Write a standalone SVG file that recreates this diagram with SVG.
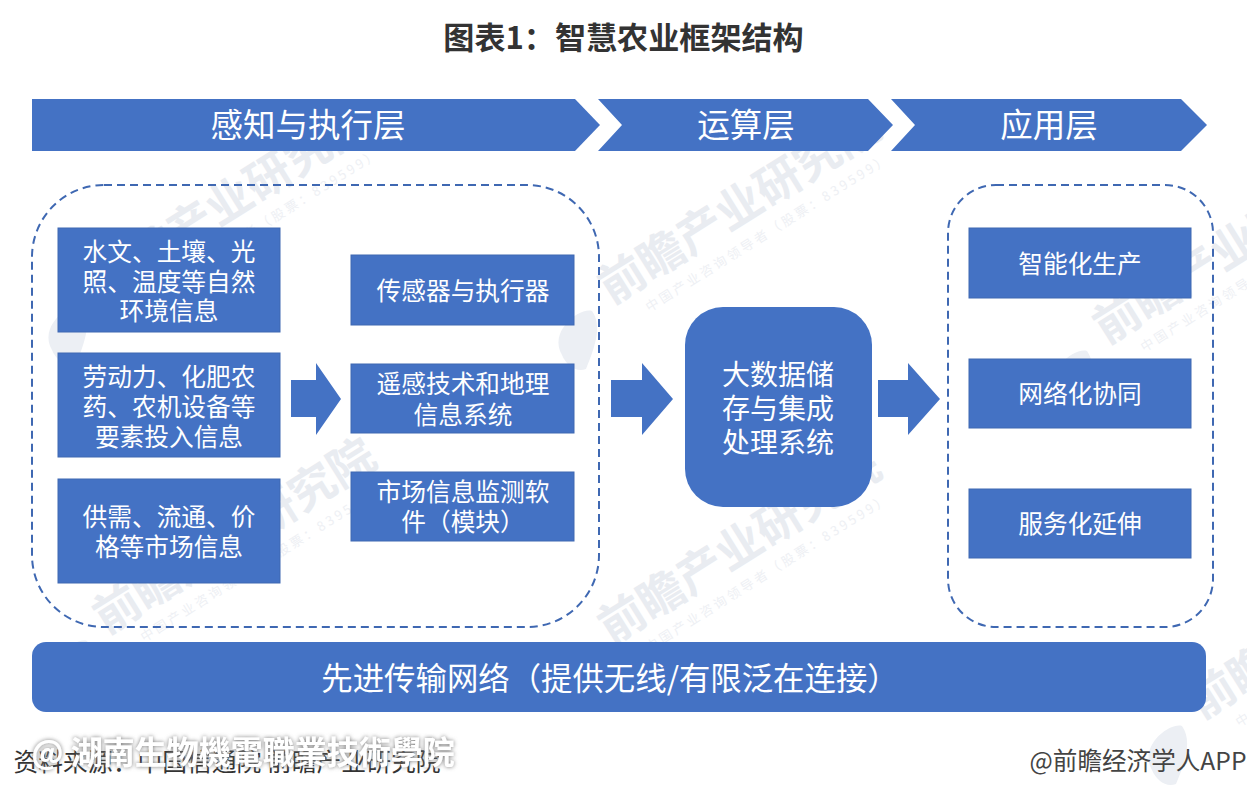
<svg xmlns="http://www.w3.org/2000/svg" width="1247" height="800" viewBox="0 0 1247 800">
<style>
text{font-family:"Noto Sans CJK SC","Liberation Sans",sans-serif;text-anchor:middle}
.b{fill:#4472c4}
.box{fill:#4472c4;stroke:#3f68b2;stroke-width:1}
.t{fill:#fff;font-size:24.7px}
.h{fill:#fff;font-size:32.5px}
.net{fill:#fff;font-size:31.4px}
.big{fill:#fff;font-size:28px}
.d{fill:none;stroke:#3f68b2;stroke-width:2;stroke-dasharray:8 5}
.wm{fill:#e9ecf1;font-size:46px;font-weight:700}
.ws{fill:#eef0f4;font-size:13px;letter-spacing:3px}
</style>
<defs>
<filter id="glow" x="-5%" y="-40%" width="110%" height="180%">
<feGaussianBlur in="SourceAlpha" stdDeviation="2.2" result="s"/>
<feFlood flood-color="#777" result="c"/>
<feComposite in="c" in2="s" operator="in" result="sh"/>
<feMerge><feMergeNode in="sh"/><feMergeNode in="SourceGraphic"/></feMerge>
</filter>
<g id="mark">
<path d="M-28 20C-42 -4 -10 -28 2 -24C12 -10 6 10 -4 34C-14 38 -24 30 -28 20Z" fill="#eceff4"/>
<text class="wm" transform="rotate(-32)" x="195" y="-14">前瞻产业研究院</text>
<text class="ws" transform="rotate(-32)" x="205" y="12">中国产业咨询领导者（股票：839599）</text>
</g>
</defs>
<rect width="1247" height="800" fill="#fff"/>
<g id="watermarks">
<use href="#mark" x="80" y="330"/>
<use href="#mark" x="590" y="335"/>
<use href="#mark" x="1085" y="375"/>
<use href="#mark" x="85" y="665"/>
<use href="#mark" x="590" y="675"/>
<use href="#mark" x="1180" y="750"/>
</g>
<text x="623.500" y="49" style="font-size:31.1px;font-weight:700;fill:#333">图表1：智慧农业框架结构</text>
<g id="band-sense"><path class="b" d="M32 99H575L600 125L575 151H32Z"/><text class="h" x="308" y="137">感知与执行层</text></g>
<g id="band-compute"><path class="b" d="M598 99H868L893 125L868 151H598L622 125Z"/><text class="h" x="746" y="137">运算层</text></g>
<g id="band-app"><path class="b" d="M891 99H1181L1207 125L1181 151H891L915 125Z"/><text class="h" x="1049" y="137">应用层</text></g>
<g id="group-left"><rect class="d" x="32" y="185" width="567" height="442" rx="72"/></g>
<g id="group-right"><rect class="d" x="948" y="185" width="265" height="442" rx="48"/></g>
<g id="n1"><rect class="box" x="58" y="228" width="222" height="104"/><text class="t" x="169" y="261">水文、土壤、光</text><text class="t" x="169" y="291">照、温度等自然</text><text class="t" x="169" y="320">环境信息</text></g>
<g id="n2"><rect class="box" x="58" y="353" width="222" height="104"/><text class="t" x="169" y="386">劳动力、化肥农</text><text class="t" x="169" y="416">药、农机设备等</text><text class="t" x="169" y="446">要素投入信息</text></g>
<g id="n3"><rect class="box" x="58" y="479" width="222" height="104"/><text class="t" x="169" y="526">供需、流通、价</text><text class="t" x="169" y="556">格等市场信息</text></g>
<g id="n4"><rect class="box" x="351" y="255" width="223" height="70"/><text class="t" x="463" y="300">传感器与执行器</text></g>
<g id="n5"><rect class="box" x="351" y="364" width="223" height="69"/><text class="t" x="463" y="393">遥感技术和地理</text><text class="t" x="463" y="424">信息系统</text></g>
<g id="n6"><rect class="box" x="351" y="472" width="223" height="69"/><text class="t" x="463" y="501">市场信息监测软</text><text class="t" x="463" y="531">件（模块）</text></g>
<g id="n7"><rect class="b" x="685" y="307" width="187" height="200" rx="38"/><text class="big" x="778" y="385">大数据储</text><text class="big" x="778" y="419">存与集成</text><text class="big" x="778" y="453">处理系统</text></g>
<g id="n8"><rect class="box" x="969" y="228" width="222" height="70"/><text class="t" x="1080" y="273">智能化生产</text></g>
<g id="n9"><rect class="box" x="969" y="359" width="222" height="69"/><text class="t" x="1080" y="403">网络化协同</text></g>
<g id="n10"><rect class="box" x="969" y="489" width="222" height="69"/><text class="t" x="1080" y="533">服务化延伸</text></g>
<g id="n11"><rect class="b" x="32" y="642" width="1174" height="70" rx="14"/><text class="net" x="610" y="690">先进传输网络（提供无线/有限泛在连接）</text></g>
<g id="connectors">
<path class="b" d="M291 380H316V363L341 399L316 435V417H291Z"/>
<path class="b" d="M611 380H642V363L673 399L642 435V417H611Z"/>
<path class="b" d="M878 380H908V363L940 399L908 435V417H878Z"/>
</g>
<text x="227" y="771" style="font-size:24.8px;fill:#333">资料来源：中国信通院 前瞻产业研究院</text>
<text x="1138" y="770" style="font-size:24.6px;fill:#444">@前瞻经济学人APP</text>
<text x="243" y="764" filter="url(#glow)" style="font-size:32px;font-weight:700;fill:#fff;font-family:'Noto Sans CJK TC',sans-serif">@ 湖南生物機電職業技術學院</text>
</svg>
